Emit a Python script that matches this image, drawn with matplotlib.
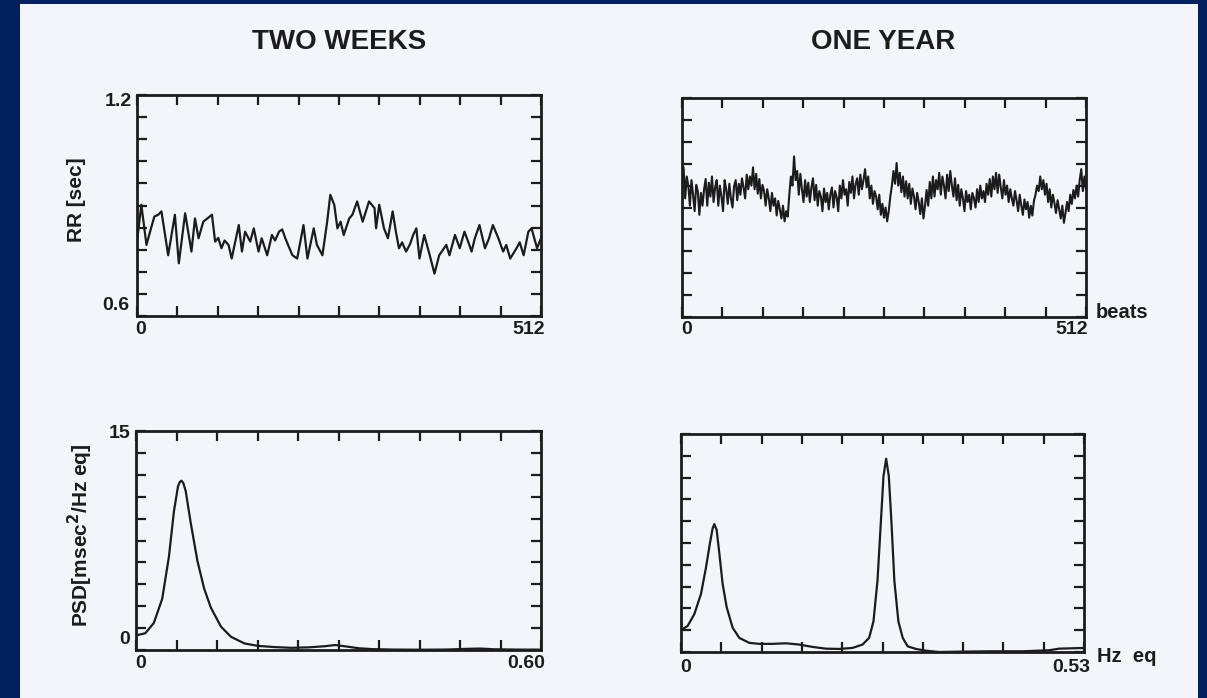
import numpy as np
import matplotlib
matplotlib.use("Agg")
import matplotlib.pyplot as plt
from matplotlib.patches import Rectangle

# ---------------------------------------------------------------- data
titles = ["TWO WEEKS", "ONE YEAR"]

# RR interval series, two weeks after transplant (beat index, seconds)
rr_two_weeks_beats = [0, 5.5, 12, 18, 22, 27, 31, 39.5, 48, 53, 61, 69, 73.5, 78, 84, 95,
                      99, 103, 107, 111, 116, 120, 129, 133, 137, 143.5, 148, 154, 158,
                      165, 171, 175, 180, 184, 188, 192, 197, 203, 211, 216, 224, 228,
                      235, 241, 245, 250, 254, 258, 262, 269, 273, 279, 286, 294, 301,
                      303, 307, 313, 318, 324, 328, 332, 336, 341, 346, 350, 354, 358,
                      364, 371, 377, 383, 392, 396, 403, 409, 415, 420, 424, 428, 434,
                      441, 446, 451, 458, 464, 468, 473, 481, 485, 490, 496, 500, 507, 512]
rr_two_weeks = [0.802, 0.902, 0.793, 0.840, 0.870, 0.875, 0.884, 0.765, 0.875, 0.743,
                0.879, 0.775, 0.865, 0.811, 0.856, 0.875, 0.802, 0.812, 0.784, 0.805,
                0.793, 0.756, 0.847, 0.775, 0.829, 0.802, 0.838, 0.775, 0.811, 0.765,
                0.820, 0.805, 0.829, 0.835, 0.811, 0.790, 0.765, 0.756, 0.847, 0.756,
                0.838, 0.793, 0.765, 0.856, 0.929, 0.902, 0.838, 0.856, 0.820, 0.865,
                0.875, 0.911, 0.856, 0.911, 0.893, 0.838, 0.902, 0.838, 0.811, 0.884,
                0.830, 0.784, 0.800, 0.775, 0.795, 0.820, 0.838, 0.756, 0.820, 0.765,
                0.715, 0.765, 0.793, 0.765, 0.820, 0.784, 0.829, 0.800, 0.775, 0.810,
                0.847, 0.784, 0.810, 0.847, 0.811, 0.775, 0.793, 0.756, 0.784, 0.800,
                0.765, 0.829, 0.838, 0.784, 0.811]

# RR interval series, one year after transplant (every second beat, seconds)
rr_one_year = [
    0.975, 1.010, 0.925, 0.985, 0.960, 0.905, 0.975, 0.935, 0.890, 0.962, 0.945, 0.880, 0.940, 0.905, 0.950, 0.978,
    0.905, 0.968, 0.930, 0.985, 0.915, 0.955, 0.975, 0.905, 0.960, 0.930, 0.890, 0.975, 0.950, 0.910, 0.965, 0.925,
    0.900, 0.958, 0.975, 0.920, 0.965, 0.935, 0.980, 0.955, 0.925, 0.990, 0.950, 0.985, 0.960, 1.010, 0.950, 0.992,
    0.938, 0.978, 0.925, 0.962, 0.945, 0.905, 0.950, 0.925, 0.890, 0.940, 0.905, 0.925, 0.878, 0.918, 0.895, 0.870,
    0.905, 0.862, 0.890, 0.875, 0.935, 0.985, 0.960, 1.040, 0.975, 1.000, 0.935, 0.992, 0.950, 0.915, 0.975, 0.930,
    0.968, 0.915, 0.955, 0.980, 0.920, 0.962, 0.905, 0.945, 0.930, 0.890, 0.952, 0.915, 0.940, 0.895, 0.935, 0.955,
    0.900, 0.945, 0.928, 0.890, 0.960, 0.925, 0.975, 0.935, 0.950, 0.905, 0.970, 0.940, 0.985, 0.925, 0.965, 0.980,
    0.935, 0.990, 0.950, 0.975, 1.005, 0.955, 0.985, 0.925, 0.960, 0.910, 0.945, 0.930, 0.895, 0.935, 0.880, 0.910,
    0.872, 0.900, 0.862, 0.890, 0.930, 0.960, 1.000, 0.965, 1.022, 0.960, 0.995, 0.942, 0.985, 0.930, 0.972, 0.925,
    0.965, 0.910, 0.952, 0.930, 0.895, 0.940, 0.915, 0.882, 0.925, 0.870, 0.905, 0.948, 0.905, 0.970, 0.925, 0.985,
    0.930, 0.975, 0.950, 0.995, 0.935, 0.985, 0.960, 0.925, 0.990, 0.945, 1.000, 0.960, 0.930, 0.980, 0.920, 0.962,
    0.905, 0.950, 0.925, 0.890, 0.945, 0.915, 0.935, 0.895, 0.940, 0.925, 0.900, 0.950, 0.915, 0.960, 0.925, 0.945,
    0.915, 0.965, 0.935, 0.978, 0.930, 0.985, 0.950, 0.995, 0.940, 0.990, 0.955, 0.925, 0.975, 0.935, 0.960, 0.915,
    0.950, 0.925, 0.905, 0.945, 0.920, 0.890, 0.935, 0.905, 0.880, 0.922, 0.895, 0.915, 0.872, 0.905, 0.878, 0.918,
    0.935, 0.960, 0.945, 0.985, 0.950, 0.975, 0.935, 0.965, 0.915, 0.950, 0.900, 0.935, 0.912, 0.885, 0.920, 0.895,
    0.870, 0.905, 0.858, 0.885, 0.915, 0.890, 0.935, 0.910, 0.948, 0.925, 0.960, 0.930, 0.975, 1.005, 0.945, 0.985,
    0.950]

# power spectral density (frequency in Hz eq, msec^2/Hz eq)
psd_two_weeks_freq = [0.0, 0.0138, 0.0264, 0.0388, 0.0488, 0.0562, 0.0622, 0.0648, 0.0672,
                      0.0700, 0.0736, 0.0811, 0.0910, 0.1010, 0.1109, 0.1259, 0.1408, 0.1607,
                      0.1806, 0.2055, 0.2304, 0.2552, 0.2801, 0.2950, 0.3100, 0.3300, 0.3500,
                      0.3800, 0.4200, 0.4600, 0.4900, 0.5100, 0.5300, 0.5600, 0.6000]
psd_two_weeks = [1.0, 1.15, 1.85, 3.5, 6.4, 9.5, 11.2, 11.5, 11.6, 11.45, 10.9, 8.7, 6.1,
                 4.2, 2.9, 1.6, 0.9, 0.45, 0.28, 0.2, 0.15, 0.18, 0.26, 0.34, 0.25, 0.12,
                 0.06, 0.03, 0.02, 0.03, 0.08, 0.1, 0.05, 0.03, 0.02]

psd_one_year_freq = [0.0, 0.0088, 0.0175, 0.0263, 0.0328, 0.0381, 0.0416, 0.0438, 0.0469,
                     0.0504, 0.0547, 0.0600, 0.0679, 0.0767, 0.0898, 0.1030, 0.1205, 0.1380,
                     0.1555, 0.1730, 0.1905, 0.2080, 0.2255, 0.2387, 0.2474, 0.2531, 0.2584,
                     0.2628, 0.2663, 0.2698, 0.2733, 0.2768, 0.2806, 0.2859, 0.2916, 0.2981,
                     0.3090, 0.3222, 0.3397, 0.3616, 0.4054, 0.4492, 0.4842, 0.4973, 0.5300]
psd_one_year = [1.5, 1.8, 2.6, 4.0, 5.8, 7.5, 8.5, 8.8, 8.4, 6.8, 4.7, 3.1, 1.67, 0.97,
                0.63, 0.56, 0.56, 0.6, 0.51, 0.35, 0.23, 0.21, 0.28, 0.51, 0.97, 2.1,
                4.9, 8.9, 12.1, 13.3, 12.1, 8.9, 4.9, 2.1, 0.97, 0.39, 0.21, 0.09, 0.0,
                0.02, 0.05, 0.05, 0.12, 0.23, 0.28]

rr_range = (0.6, 1.2)
beats_range = (0, 512)
psd_range = (0, 15)
freq_max = [0.60, 0.53]

# ---------------------------------------------------------------- style
W, H = 1207, 698
NAVY = "#03205f"
PAPER = "#f3f5fa"
INK = "#1c1c1c"
FONT = "Liberation Sans"

plt.rcParams["font.family"] = [FONT, "DejaVu Sans"]

fig = plt.figure(figsize=(W / 100, H / 100), dpi=100, facecolor=NAVY)
fig.add_artist(Rectangle((20 / W, 0), (1198 - 20) / W, 1 - 4 / H,
                         transform=fig.transFigure, facecolor=PAPER,
                         edgecolor="none", zorder=-10))


def box(l, t, r, b):
    return [l / W, 1 - b / H, (r - l) / W, (b - t) / H]


def ftext(x, y, s, **kw):
    kw.setdefault("color", INK)
    kw.setdefault("fontweight", "bold")
    fig.text(x / W, 1 - y / H, s, **kw)


def frame(ax, xlim, ylim):
    ax.set_facecolor("none")
    ax.set_xlim(*xlim)
    ax.set_ylim(*ylim)
    ax.set_xticks(np.linspace(xlim[0], xlim[1], 11))
    ax.set_yticks(np.linspace(ylim[0], ylim[1], 11))
    ax.tick_params(direction="in", length=7, width=1.6, color=INK,
                   top=True, right=True, labelbottom=False, labelleft=False)
    for sp in ax.spines.values():
        sp.set_linewidth(2.0)
        sp.set_color(INK)


ax_tl = fig.add_axes(box(137, 95, 541, 316))
ax_tr = fig.add_axes(box(682, 98, 1086, 317))
ax_bl = fig.add_axes(box(136, 431, 541, 650))
ax_br = fig.add_axes(box(681, 434, 1084, 652))

# RR tachograms
frame(ax_tl, beats_range, rr_range)
ax_tl.plot(rr_two_weeks_beats, rr_two_weeks, color=INK, lw=1.6)

frame(ax_tr, beats_range, rr_range)
ax_tr.plot(np.arange(len(rr_one_year)) * 2, rr_one_year, color=INK, lw=1.5)

# spectra
frame(ax_bl, (0, freq_max[0]), psd_range)
ax_bl.plot(psd_two_weeks_freq, psd_two_weeks, color=INK, lw=1.6)

frame(ax_br, (0, freq_max[1]), psd_range)
ax_br.plot(psd_one_year_freq, psd_one_year, color=INK, lw=1.6)

# titles
ftext(339, 42, titles[0], fontsize=20, ha="center", va="center")
ftext(883, 42, titles[1], fontsize=20, ha="center", va="center")

# tick values
num = dict(fontsize=14, va="center")
ftext(132, 101, "1.2", ha="right", **num)
ftext(129, 306, "0.6", ha="right", **num)
ftext(141, 329, "0", ha="center", **num)
ftext(545, 330, "512", ha="right", **num)
ftext(687, 329, "0", ha="center", **num)
ftext(1088, 330, "512", ha="right", **num)
ftext(130, 434, "15", ha="right", **num)
ftext(130, 640, "0", ha="right", **num)
ftext(141, 663, "0", ha="center", **num)
ftext(545, 663, "0.60", ha="right", **num)
ftext(686, 667, "0", ha="center", **num)
ftext(1090, 667, "0.53", ha="right", **num)

# axis captions
ftext(1096, 313, "beats", fontsize=14.5, ha="left", va="center")
ftext(1097, 656, "Hz  eq", fontsize=14.5, ha="left", va="center")
ftext(76, 200, "RR [sec]", fontsize=15, ha="center", va="center", rotation=90)
ftext(80, 535, "PSD[msec$^{\\mathbf{2}}$/Hz eq]", fontsize=15, ha="center",
      va="center", rotation=90)

fig.savefig("out.png", dpi=100, facecolor=NAVY)
